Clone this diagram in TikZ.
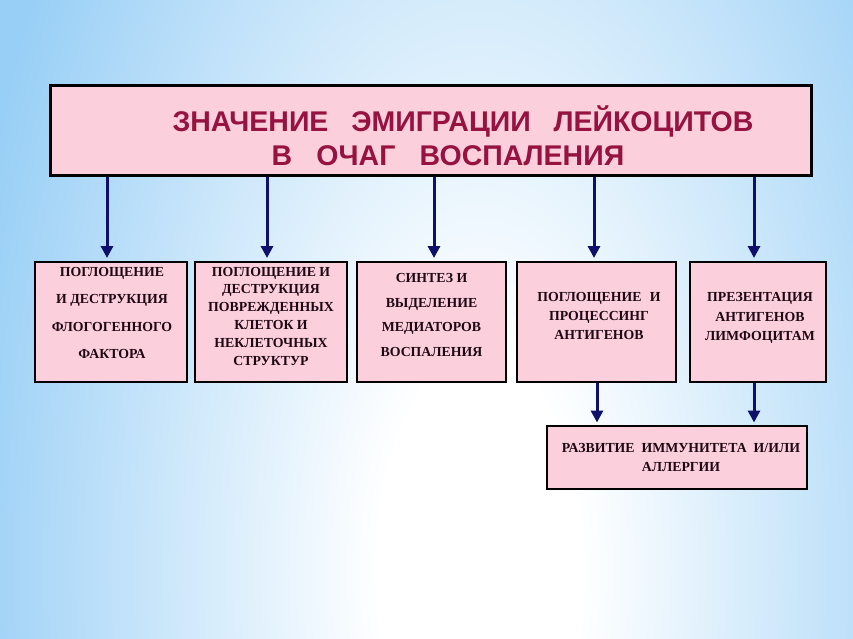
\documentclass[tikz,border=0pt]{standalone}
\usepackage{fontspec}
\setmainfont{Liberation Serif}
\newfontfamily\titlefont{Liberation Sans}
\usetikzlibrary{arrows.meta}
\definecolor{bgblue}{RGB}{152,207,246}
\definecolor{pinkfill}{RGB}{251,207,219}
\definecolor{titlered}{RGB}{150,18,64}
\definecolor{navy}{RGB}{14,16,105}
\definecolor{txtdark}{RGB}{30,8,20}
\tikzset{
  box/.style={draw=black, line width=2pt, fill=pinkfill, inner sep=0pt},
  boxtxt/.style={text=txtdark, align=center, inner sep=0pt,
    font=\fontsize{13.8}{#1}\selectfont\bfseries},
  arr/.style={draw=navy, line width=3pt, -{Triangle[width=12pt,length=12pt]}}
}
\begin{document}
\begin{tikzpicture}[x=1pt,y=-1pt]
\useasboundingbox (0,0) rectangle (853,639);
\begin{scope}
\clip (0,0) rectangle (853,639);
\fill[bgblue] (0,0) rectangle (853,639);
\foreach \i in {0,...,60}{
  \pgfmathsetmacro\f{1-\i/60*0.8}
  \pgfmathsetmacro\p{(\f-0.2)/0.8*100}
  \fill[bgblue!\p!white] (480,570) ellipse [x radius=530*\f, y radius=1100*\f];
}
\end{scope}
% title
\node[box, line width=3pt, minimum width=761pt, minimum height=90pt] (title) at (430.5,131) {};
\node[text=titlered, font=\titlefont\fontsize{28.5}{34}\selectfont\bfseries, align=center, inner sep=0pt] (tt) at (463,136)
  {ЗНАЧЕНИЕ\hspace{0.8em}ЭМИГРАЦИИ\hspace{0.8em}ЛЕЙКОЦИТОВ\\\hspace{-30pt}В\hspace{0.85em}ОЧАГ\hspace{0.85em}ВОСПАЛЕНИЯ};
% boxes
\node[box, minimum width=152pt, minimum height=120pt] (b1) at (111,322) {};
\node[box, minimum width=152pt, minimum height=120pt] (b2) at (271,322) {};
\node[box, minimum width=149pt, minimum height=120pt] (b3) at (431.5,322) {};
\node[box, minimum width=159pt, minimum height=120pt] (b4) at (596.5,322) {};
\node[box, minimum width=136pt, minimum height=120pt] (b5) at (758,322) {};
\node[box, minimum width=260pt, minimum height=63pt] (b6) at (677,457) {};
% texts
\node[boxtxt=27.3] (t1) at (112,313) {ПОГЛОЩЕНИЕ\\И ДЕСТРУКЦИЯ\\ФЛОГОГЕННОГО\\ФАКТОРА};
\node[boxtxt=17.8] (t2) at (271,316) {ПОГЛОЩЕНИЕ И\\ДЕСТРУКЦИЯ\\ПОВРЕЖДЕННЫХ\\КЛЕТОК И\\НЕКЛЕТОЧНЫХ\\СТРУКТУР};
\node[boxtxt=24.7] (t3) at (431.5,315) {СИНТЕЗ И\\ВЫДЕЛЕНИЕ\\МЕДИАТОРОВ\\ВОСПАЛЕНИЯ};
\node[boxtxt=19] (t4) at (599,316) {ПОГЛОЩЕНИЕ\hspace{0.6em}И\\ПРОЦЕССИНГ\\АНТИГЕНОВ};
\node[boxtxt=19.5] (t5) at (760,318) {ПРЕЗЕНТАЦИЯ\\АНТИГЕНОВ\\ЛИМФОЦИТАМ};
\node[boxtxt=19] (t6) at (681,457) {РАЗВИТИЕ\hspace{0.5em}ИММУНИТЕТА\hspace{0.5em}И/ИЛИ\\АЛЛЕРГИИ};
% arrows
\draw[arr, shorten >=3pt] ([xshift=-4pt]b1.north |- title.south) -- ([xshift=-4pt]b1.north);
\draw[arr, shorten >=3pt] ([xshift=-4pt]b2.north |- title.south) -- ([xshift=-4pt]b2.north);
\draw[arr, shorten >=3pt] ([xshift=2.5pt]b3.north |- title.south) -- ([xshift=2.5pt]b3.north);
\draw[arr, shorten >=3pt] ([xshift=-2.5pt]b4.north |- title.south) -- ([xshift=-2.5pt]b4.north);
\draw[arr, shorten >=3pt] ([xshift=-4pt]b5.north |- title.south) -- ([xshift=-4pt]b5.north);
\draw[arr, shorten >=2pt] ([xshift=0.5pt]b4.south) -- ([xshift=0.5pt]b4.south |- b6.north);
\draw[arr, shorten >=2pt] ([xshift=-4pt]b5.south) -- ([xshift=-4pt]b5.south |- b6.north);
\end{tikzpicture}
\end{document}
